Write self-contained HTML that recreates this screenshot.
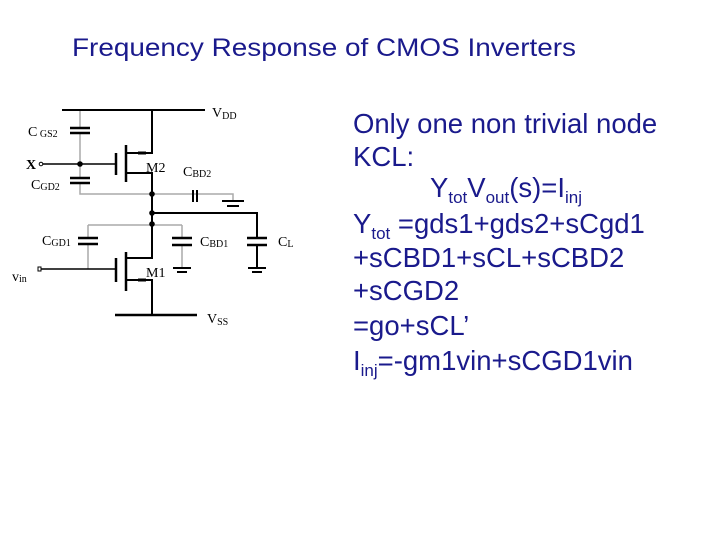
<!DOCTYPE html>
<html><head><meta charset="utf-8"><style>
html,body{margin:0;padding:0;background:#fff;}
svg{display:block;}
.t{font-family:"Liberation Sans",Arial,sans-serif;fill:#1a1a8c;}
.s{font-family:"Liberation Serif","Times New Roman",serif;fill:#000;}
</style></head><body>
<svg width="720" height="540" viewBox="0 0 720 540" xmlns="http://www.w3.org/2000/svg">
<text class="t" x="72" y="56" font-size="25" textLength="504" lengthAdjust="spacingAndGlyphs">Frequency Response of CMOS Inverters</text>

<g class="t" font-size="27.5">
<text x="353" y="133">Only one non trivial node</text>
<text x="353" y="166">KCL:</text>
<text x="430" y="197">Y<tspan font-size="17" dy="6">tot</tspan><tspan dy="-6">V</tspan><tspan font-size="17" dy="6">out</tspan><tspan dy="-6">(s)=I</tspan><tspan font-size="17" dy="6">inj</tspan></text>
<text x="353" y="233">Y<tspan font-size="17" dy="6">tot</tspan><tspan dy="-6"> =gds1+gds2+sCgd1</tspan></text>
<text x="353" y="267">+sCBD1+sCL+sCBD2</text>
<text x="353" y="300">+sCGD2</text>
<text x="353" y="335">=go+sCL’</text>
<text x="353" y="370">I<tspan font-size="17" dy="6">inj</tspan><tspan dy="-6">=-gm1vin+sCGD1vin</tspan></text>
</g>

<g stroke="#aaa" stroke-width="1.5" fill="none">
<path d="M80 110 V128 M80 133 V178 M80 183 V194 H152"/>
<path d="M152 194 H233 V201"/>
<path d="M88 225 H182 M88 225 V238 M88 244 V269 M182 225 V238 M182 245 V268"/>
</g>
<g stroke="#000" stroke-width="2" fill="none">
<path d="M62 110 H205"/>
<path d="M152 110 V153 H127"/>
<path d="M126 145 V182" stroke-width="2.5"/>
<path d="M116 153 V175" stroke-width="2.5"/>
<path d="M42 164 H116" stroke-width="1.5"/>
<path d="M126 173 H152 V258 H126"/>
<path d="M152 213 H257 V238 M257 245 V268"/>
<path d="M126 252 V291" stroke-width="2.5"/>
<path d="M116 258 V282" stroke-width="2.5"/>
<path d="M40 269 H116" stroke-width="1.5"/>
<path d="M127 280 H152 V315"/>
<path d="M115 315 H197" stroke-width="2.5"/>
<path d="M70 128 H90 M70 133 H90 M70 178 H90 M70 183 H90" stroke-width="2.5"/>
<path d="M78 238 H98 M78 244 H98 M172 238 H192 M172 245 H192 M247 238 H267 M247 245 H267" stroke-width="2.5"/>
<path d="M193 190 V202 M197 190 V202" stroke-width="2"/>
<path d="M222 201 H244 M227 206 H239 M173 268 H191 M177 272 H187 M248 268 H266 M252 272 H262" stroke-width="2"/>
<path d="M138 153 H146 M138 280 H146" stroke-width="3"/>
</g>
<g fill="#000">
<circle cx="80" cy="164" r="2.8"/>
<circle cx="152" cy="194" r="2.8"/>
<circle cx="152" cy="213" r="2.8"/>
<circle cx="152" cy="224" r="2.8"/>
</g>
<circle cx="41" cy="164" r="1.8" fill="#fff" stroke="#000"/>
<rect x="38" y="267" width="3" height="4" fill="#fff" stroke="#000"/>
<g class="s" font-size="14">
<text x="212" y="117">V<tspan font-size="10" dy="2">DD</tspan></text>
<text x="28" y="136">C<tspan font-size="10" dy="1"> GS2</tspan></text>
<text x="26" y="169" font-weight="bold">X</text>
<text x="31" y="189">C<tspan font-size="10" dy="1">GD2</tspan></text>
<text x="146" y="172">M2</text>
<text x="183" y="176">C<tspan font-size="10" dy="1">BD2</tspan></text>
<text x="42" y="245">C<tspan font-size="10" dy="1">GD1</tspan></text>
<text x="200" y="246">C<tspan font-size="10" dy="1">BD1</tspan></text>
<text x="278" y="246">C<tspan font-size="10" dy="1">L</tspan></text>
<text x="12" y="281">v<tspan font-size="10" dy="1">in</tspan></text>
<text x="146" y="277">M1</text>
<text x="207" y="323">V<tspan font-size="10" dy="2">SS</tspan></text>
</g>
</svg>
</body></html>
